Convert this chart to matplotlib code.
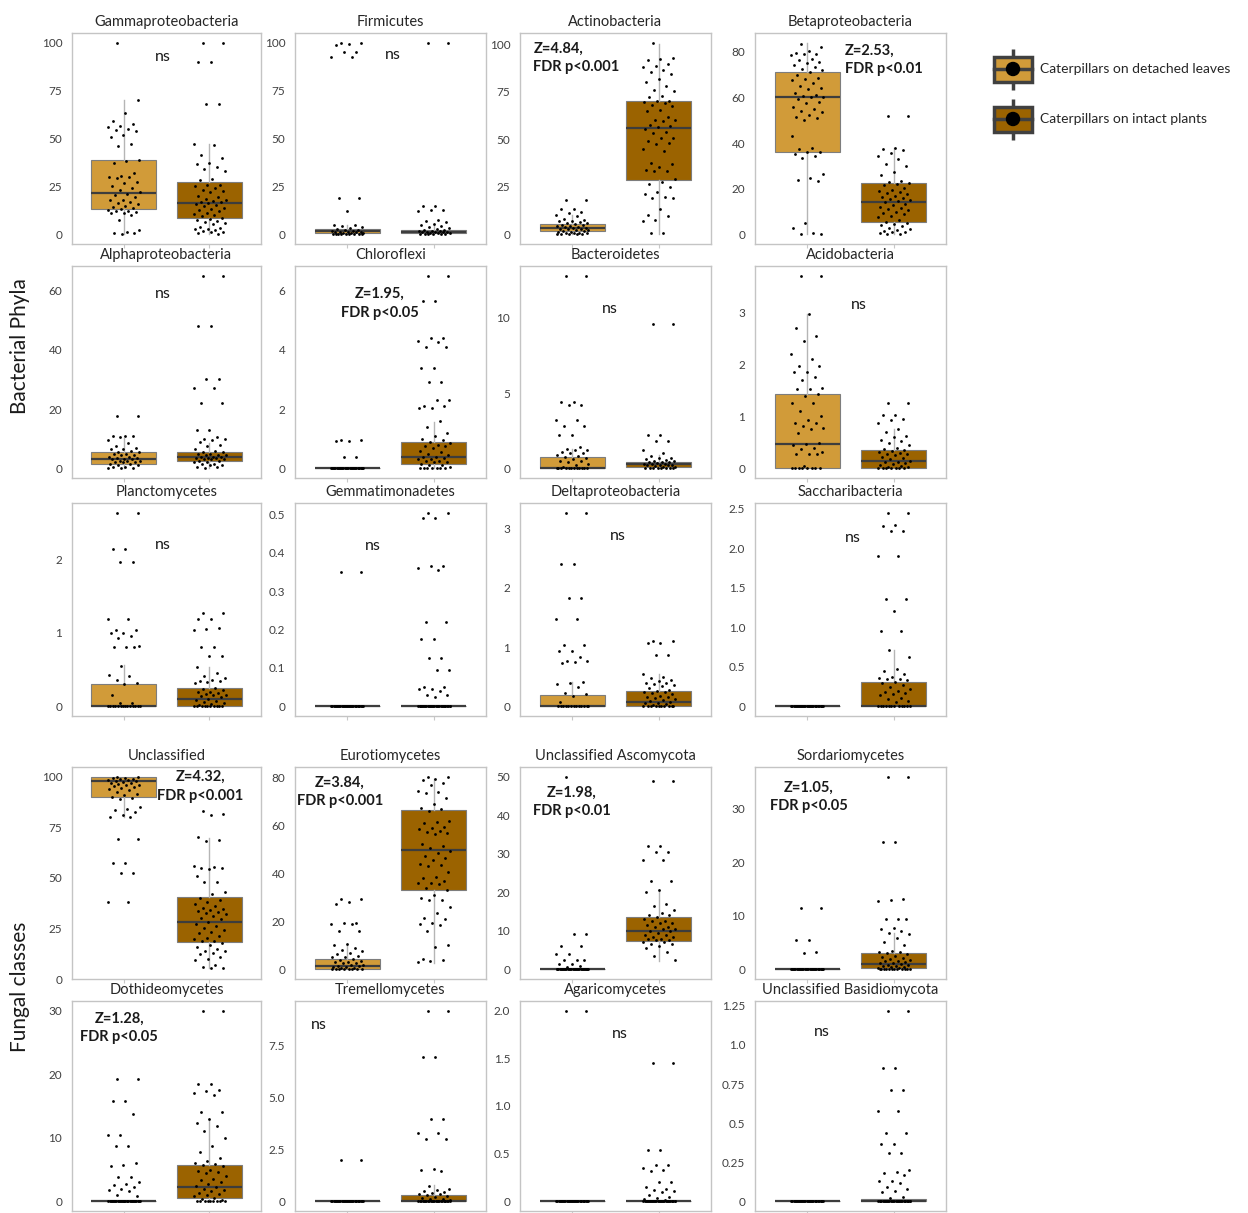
import numpy as np
import matplotlib
matplotlib.use("Agg")
import matplotlib.pyplot as plt
from matplotlib.patches import Rectangle, Circle

plt.rcParams['font.family'] = ['Lato', 'DejaVu Sans']

W, H = 1248, 1213

group_labels = ["Caterpillars on detached leaves", "Caterpillars on intact plants"]
group_colors = ["#D19B39", "#9B6300"]

# ---------------- relative abundance (%) per caterpillar, by group ----------------
gamma_detached = [100, 70, 63.5, 59, 57.5, 56.5, 56, 55, 54.5, 54, 52, 51, 47, 46, 39, 38.5, 37, 32,
                  30.5, 30, 30, 29.5, 27.5, 27, 25, 24, 23, 22, 21, 20.5, 19.5, 18, 18, 17, 16.5, 16,
                  15, 14.5, 14, 13, 12.5, 12, 12, 11.5, 11, 11, 10, 7.5, 2.5, 1, 0.5, 0.5, 0]
gamma_intact = [100, 100, 90, 90, 68, 68, 47, 46.5, 41.5, 40, 37, 36.5, 35, 34, 33, 29, 28.5, 26,
                25.5, 25, 24, 23, 22.5, 22, 20, 19.5, 18.5, 18, 17.5, 17, 17, 16.5, 16, 15.5, 15,
                14, 13.5, 12.5, 12, 11, 10.5, 10, 9.5, 8.5, 8, 7.5, 7, 6.5, 6, 5.5, 4, 3.5, 3, 3,
                2.5, 2, 1.5, 1, 0.5, 0]
gamma_box_detached = [0, 13, 21.5, 39, 70]
gamma_box_intact = [0, 8.5, 16.5, 27.5, 47]

firm_detached = [100, 100, 99.5, 99, 95, 95, 92.5, 92.5, 19, 19, 12, 5, 5, 4.5, 4, 3.5, 3, 2.5, 2.5,
                 2, 2, 1.5, 1.5, 1, 1, 1, 0.8, 0.5, 0.5, 0.3, 0.2, 0, 0, 0, 0, 0, 0, 0]
firm_intact = [100, 100, 15, 15, 12.5, 12.5, 12, 7.5, 7, 6.5, 5.5, 5, 4.5, 4, 3.5, 3, 2.5, 2.5, 2, 2,
               1.8, 1.5, 1.5, 1.2, 1, 1, 0.8, 0.5, 0.5, 0.3, 0, 0, 0, 0, 0]
firm_box_detached = [0, 0.8, 1.6, 2.8, 5]
firm_box_intact = [0, 0.8, 1.5, 2.3, 5]

actino_detached = [18, 18, 13.5, 13.5, 12, 11.5, 10, 9.5, 8, 7.5, 7, 7, 6.5, 6, 6, 5.5, 5, 5, 4.5,
                   4.5, 4, 4, 3.5, 3.5, 3, 3, 3, 2.5, 2.5, 2, 2, 1.5, 1.5, 1, 1, 0.5, 0.5, 0, 0, 0, 0, 0]
actino_intact = [101, 93, 92.5, 92, 89.5, 88.5, 88, 86.5, 85.5, 84.5, 82, 80, 78, 76, 75.5, 73, 72.5,
                 70.5, 70, 69.5, 69, 68, 67.5, 65.5, 65, 62, 60.5, 60, 59.5, 57.5, 57, 56.5, 55.5, 54,
                 53.5, 51, 51, 49, 48, 47.5, 45, 44, 37.5, 37, 35.5, 34, 33.5, 33.5, 29, 27.5, 26.5,
                 25, 22.5, 21.5, 19.5, 19, 19, 13.5, 10, 9.5, 7.5, 7, 0.5, 0.5]
actino_box_detached = [0, 2, 3.5, 5.5, 10]
actino_box_intact = [0, 28.5, 56, 70.5, 100]

beta_detached = [83.5, 82, 80.5, 79.5, 79, 79, 78.5, 77, 76.5, 75.5, 75, 74, 73.5, 72.5, 72, 71, 70,
                 68.5, 68, 67.5, 66.5, 65, 64, 63.5, 62, 61, 60.5, 60, 60, 59.5, 58, 57.5, 56, 55, 54,
                 53.5, 52.5, 51.5, 51, 50, 43, 38, 37.5, 36, 36, 35, 34.5, 33.5, 26.5, 24.5, 24, 23.5,
                 5, 3, 0.5, 0, 0]
beta_intact = [52, 52, 38, 37.5, 37, 35.5, 34.5, 33, 31, 30, 27.5, 26, 23.5, 23, 22.5, 22, 21.5, 20.5,
               19.5, 19, 18.5, 18, 17.5, 17, 16.5, 16, 15.5, 15, 14.5, 14, 13.5, 13, 12, 11.5, 11,
               10.5, 10, 9.5, 9, 8, 7.5, 6.5, 5.5, 5, 4.5, 4, 3.5, 3, 2.5, 2, 1.5, 1, 1, 0.5, 0, 0]
beta_box_detached = [0, 36, 60, 71, 84]
beta_box_intact = [0, 5.5, 14, 22.5, 38]

alpha_detached = [17.5, 17.5, 11, 11, 11, 10.5, 9.5, 8.5, 7.5, 7, 6.5, 6.5, 6, 5.5, 5.5, 5, 5, 4.5,
                  4.5, 4, 4, 3.5, 3.5, 3, 3, 3, 2.5, 2.5, 2.5, 2, 2, 2, 1.5, 1.5, 1, 1, 0.5, 0.5, 0, 0, 0]
alpha_intact = [65, 65, 48, 48, 30, 30, 27, 27, 22, 22, 13, 13, 10.5, 10, 10, 9.5, 9, 8, 7.5, 6.5, 6,
                5.5, 5.5, 5, 5, 4.5, 4.5, 4.5, 4, 4, 4, 3.5, 3.5, 3.5, 3, 3, 3, 2.5, 2.5, 2, 2, 1.5,
                1.5, 1, 1, 0.5, 0.5, 0]
alpha_box_detached = [0, 1.5, 3.1, 5.4, 10.4]
alpha_box_intact = [0, 2.6, 4.0, 5.4, 8.7]

chloro_detached = [0.95, 0.95, 0.92, 0.92, 0.38, 0.38] + [0] * 30
chloro_intact = [6.5, 6.5, 5.65, 5.65, 4.4, 4.4, 4.3, 4.25, 4.1, 4.1, 3.4, 3.4, 2.9, 2.9, 2.3, 2.3,
                 2.1, 2.1, 2.05, 2.05, 1.6, 1.4, 1.2, 1.1, 1.0, 0.95, 0.9, 0.85, 0.8, 0.75, 0.75, 0.7,
                 0.6, 0.55, 0.5, 0.45, 0.4, 0.38, 0.35, 0.3, 0.3, 0.25, 0.25, 0.2, 0.2, 0.15, 0.1,
                 0.1, 0.05] + [0] * 7
chloro_box_detached = [0, 0, 0, 0, 0]
chloro_box_intact = [0, 0.15, 0.37, 0.9, 1.57]

bactero_detached = [12.8, 12.8, 4.4, 4.4, 4.2, 4.2, 3.2, 3.2, 2.8, 2.8, 2.2, 2.2, 1.4, 1.3, 1.2, 1.2,
                    1.1, 1.0, 1.0, 0.9, 0.8, 0.75, 0.7, 0.6, 0.5, 0.5, 0.4, 0.3, 0.2, 0.1] + [0] * 12
bactero_intact = [9.6, 9.6, 2.2, 2.2, 1.8, 1.8, 1.2, 1.0, 0.8, 0.7, 0.7, 0.6, 0.55, 0.5, 0.5, 0.45,
                  0.4, 0.4, 0.35, 0.3, 0.3, 0.3, 0.25, 0.25, 0.2, 0.2, 0.15, 0.1, 0.1, 0.05] + [0] * 7
bactero_box_detached = [0, 0, 0.05, 0.75, 1.3]
bactero_box_intact = [0, 0.1, 0.3, 0.45, 0.9]

acido_detached = [3.7, 3.7, 2.97, 2.7, 2.55, 2.45, 2.2, 2.1, 1.97, 1.97, 1.85, 1.85, 1.75, 1.7, 1.55,
                  1.53, 1.52, 1.42, 1.38, 1.25, 1.25, 1.1, 1.0, 0.92, 0.88, 0.88, 0.82, 0.78, 0.75,
                  0.67, 0.48, 0.47, 0.45, 0.4, 0.37, 0.32, 0.28, 0.27, 0.27, 0.05] + [0] * 8
acido_intact = [1.25, 1.25, 1.03, 1.03, 0.95, 0.92, 0.88, 0.75, 0.7, 0.62, 0.6, 0.55, 0.52, 0.48,
                0.45, 0.4, 0.38, 0.35, 0.33, 0.32, 0.3, 0.28, 0.27, 0.25, 0.22, 0.2, 0.18, 0.15,
                0.13, 0.12, 0.1, 0.08, 0.06, 0.05, 0.03, 0.02] + [0] * 7
acido_box_detached = [0, 0, 0.47, 1.43, 2.97]
acido_box_intact = [0, 0, 0.15, 0.35, 0.76]

plancto_detached = [2.63, 2.63, 2.14, 2.14, 1.96, 1.96, 1.19, 1.19, 1.04, 1.04, 0.99, 0.99, 0.95,
                    0.93, 0.82, 0.81, 0.81, 0.8, 0.55, 0.42, 0.41, 0.36, 0.31, 0.3, 0.16, 0.05,
                    0.05] + [0] * 14
plancto_intact = [1.27, 1.27, 1.19, 1.19, 1.07, 1.05, 1.04, 0.8, 0.8, 0.69, 0.69, 0.54, 0.45, 0.41,
                  0.38, 0.36, 0.34, 0.34, 0.33, 0.32, 0.25, 0.23, 0.22, 0.2, 0.19, 0.18, 0.17, 0.16,
                  0.15, 0.14, 0.12, 0.1, 0.08, 0.07, 0.06, 0.05, 0.03, 0.02, 0.01] + [0] * 9
plancto_box_detached = [0, 0, 0, 0.3, 0.56]
plancto_box_intact = [0, 0, 0.1, 0.25, 0.54]

gemma_detached = [0.35, 0.35] + [0] * 30
gemma_intact = [0.505, 0.505, 0.49, 0.49, 0.365, 0.365, 0.36, 0.355, 0.22, 0.22, 0.175, 0.175, 0.125,
                0.125, 0.095, 0.095, 0.05, 0.05, 0.045, 0.045, 0.04, 0.03, 0.03, 0.025] + [0] * 30
gemma_box_detached = [0, 0, 0, 0, 0]
gemma_box_intact = [0, 0, 0, 0, 0]

delta_detached = [3.27, 3.27, 2.4, 2.4, 1.83, 1.83, 1.47, 1.47, 1.04, 1.04, 0.93, 0.93, 0.83, 0.76,
                  0.76, 0.74, 0.73, 0.41, 0.39, 0.38, 0.33, 0.23, 0.2, 0.18, 0.07] + [0] * 13
delta_intact = [1.1, 1.1, 1.07, 1.07, 0.87, 0.87, 0.54, 0.49, 0.48, 0.45, 0.43, 0.4, 0.39, 0.38, 0.36,
                0.34, 0.31, 0.28, 0.26, 0.25, 0.24, 0.22, 0.2, 0.18, 0.16, 0.15, 0.14, 0.12, 0.1,
                0.09, 0.08, 0.06, 0.05, 0.04, 0.02] + [0] * 10
delta_box_detached = [0, 0, 0, 0.19, 0.41]
delta_box_intact = [0, 0, 0.07, 0.26, 0.54]

sacch_detached = [0] * 30
sacch_intact = [2.45, 2.45, 2.3, 2.28, 2.22, 2.22, 1.9, 1.9, 1.36, 1.36, 1.2, 0.95, 0.95, 0.71, 0.63,
                0.47, 0.45, 0.41, 0.37, 0.36, 0.35, 0.34, 0.33, 0.31, 0.29, 0.27, 0.25, 0.22, 0.2,
                0.18, 0.17, 0.16, 0.14, 0.1, 0.09, 0.07, 0.05] + [0] * 12
sacch_box_detached = [0, 0, 0, 0, 0]
sacch_box_intact = [0, 0, 0, 0.31, 0.71]

uncl_detached = [100, 100, 99.5, 99.5, 99, 99, 98.5, 98.5, 98, 98, 97.5, 97, 97, 96.5, 96, 96, 95.5,
                 95, 94.5, 94, 93.5, 92.5, 91.5, 91, 90, 89.5, 89, 85, 84, 83.5, 82.5, 81, 80, 79.8,
                 69, 69, 57.5, 57.5, 52.5, 52.5, 38, 38]
uncl_intact = [83, 81.5, 81, 70, 68.5, 68, 56, 55.5, 55, 55, 54.5, 51, 48, 48, 43, 42, 40, 39, 38, 37,
               36, 35, 34.5, 34, 33.5, 33, 32.5, 32, 31, 30, 29.5, 28, 27, 26, 25, 24, 23, 22.5, 21,
               20.5, 20, 19, 19, 18, 17, 16, 15, 14, 14, 13, 12.5, 11, 10, 9.5, 7, 6, 5.5, 5.5]
uncl_box_detached = [79.8, 90.1, 97.8, 100, 100]
uncl_box_intact = [5.5, 18.5, 28, 40.4, 69.7]

euro_detached = [29.5, 29.5, 28, 27.5, 19.5, 19.5, 19, 19, 16, 16, 10.5, 10, 9, 8, 7.5, 7, 6.5, 5.5,
                 5, 5, 4.5, 4, 3.5, 3, 3, 2.5, 2.5, 2, 2, 1.5, 1.5, 1, 1, 0.5, 0.5] + [0] * 8
euro_intact = [80.5, 80.5, 79.5, 79, 78, 77, 74.5, 74, 73.5, 71.5, 69, 67.5, 67, 66, 62, 61.5, 61,
               59.5, 59, 58.5, 58, 57.5, 57, 56.5, 52.5, 51.5, 50.5, 49.5, 48.5, 47.5, 46.5, 45.5,
               44, 43.5, 43, 40.5, 38.5, 38, 37, 36, 36, 35.5, 34, 33, 31, 30, 29, 29, 26, 23.5,
               21.5, 21, 19.5, 19, 18.5, 16, 10, 9.5, 4.5, 4, 3.5, 3]
euro_box_detached = [0, 0, 1.3, 4.5, 10]
euro_box_intact = [2.5, 33, 49.7, 66.6, 79.5]

uasco_detached = [50, 9.3, 9.3, 6, 6, 4, 4, 2.5, 2.5, 2.5, 1.5, 1.5, 1, 0.5] + [0] * 30
uasco_intact = [48.8, 48.8, 32, 32, 30.5, 30.5, 28.5, 28.5, 23, 23, 20.5, 20, 17, 16.5, 15.5, 14.5,
                14, 14, 13.5, 13, 12.5, 12.5, 12, 12, 11.5, 11, 11, 10.5, 10.5, 10, 10, 9.5, 9, 9,
                8.5, 8.5, 8, 8, 7.5, 7.5, 7, 7, 6.5, 6.5, 6, 5.5, 4.5, 3.5, 2.3]
uasco_box_detached = [0, 0, 0, 0, 0]
uasco_box_intact = [2.2, 7.3, 10, 13.6, 20.6]

sord_detached = [11.5, 11.5, 5.5, 5.5, 3.2, 3.0] + [0] * 30
sord_intact = [36, 36, 23.8, 23.8, 13.2, 13, 12.7, 9.5, 9.4, 9.4, 7.8, 7.5, 7.2, 6.8, 6.6, 5.8, 5.2,
               4.5, 3.5, 3.3, 3.2, 3, 2.8, 2.5, 2.3, 2.1, 2, 1.8, 1.6, 1.5, 1.3, 1.2, 1.1, 1, 0.9,
               0.8, 0.7, 0.6, 0.5, 0.4, 0.3, 0.2, 0.1] + [0] * 11
sord_box_detached = [0, 0, 0, 0, 0]
sord_box_intact = [0, 0.3, 1.05, 3.1, 6.8]

doth_detached = [19.2, 19.2, 15.8, 15.8, 13.8, 10.5, 10.5, 8.7, 8.7, 6, 5.8, 5.5, 3.8, 3.8, 3, 2.8,
                 2.6, 2.3, 2, 1.8, 1.6, 1.0, 0.8] + [0] * 30
doth_intact = [30, 30, 18.5, 18.5, 17.5, 17.3, 17, 16.8, 14, 14, 13, 12.3, 11.8, 11, 10, 8.7, 7.7,
               6.8, 6.3, 6, 5.9, 5.7, 5.5, 5, 4.8, 4.6, 4.4, 4, 3.6, 3.4, 3, 2.8, 2.5, 2.2, 2, 1.8,
               1.6, 1.4, 1.2, 1.0, 0.8, 0.6, 0.4, 0.2] + [0] * 9
doth_box_detached = [0, 0, 0, 0, 0]
doth_box_intact = [0, 0.6, 2.3, 5.7, 12.9]

trem_detached = [2.0, 2.0] + [0] * 30
trem_intact = [9.2, 9.2, 6.95, 6.95, 3.95, 3.95, 3.3, 3.3, 3.0, 3.0, 1.55, 1.5, 1.45, 0.75, 0.6, 0.55,
               0.5, 0.45, 0.4, 0.38, 0.35, 0.3, 0.25, 0.2, 0.15, 0.12, 0.1, 0.05] + [0] * 25
trem_box_detached = [0, 0, 0, 0, 0]
trem_box_intact = [0, 0, 0, 0.32, 0.8]

agar_detached = [2.0, 2.0] + [0] * 30
agar_intact = [1.45, 1.45, 0.54, 0.54, 0.38, 0.38, 0.35, 0.33, 0.32, 0.2, 0.2, 0.15, 0.13, 0.12, 0.11,
               0.1, 0.07, 0.05, 0.04, 0.03, 0.02] + [0] * 30
agar_box_detached = [0, 0, 0, 0, 0]
agar_box_intact = [0, 0, 0, 0, 0]

ubas_detached = [0] * 30
ubas_intact = [1.22, 1.22, 0.85, 0.85, 0.71, 0.71, 0.58, 0.58, 0.44, 0.44, 0.37, 0.37, 0.31, 0.31,
               0.2, 0.19, 0.18, 0.17, 0.13, 0.13, 0.12, 0.09, 0.08, 0.07, 0.06, 0.03, 0.02] + [0] * 30
ubas_box_detached = [0, 0, 0, 0, 0]
ubas_box_intact = [0, 0, 0, 0.015, 0.015]

# ---------------- titles, tick labels and test results ----------------
titles = ["Gammaproteobacteria", "Firmicutes", "Actinobacteria", "Betaproteobacteria",
          "Alphaproteobacteria", "Chloroflexi", "Bacteroidetes", "Acidobacteria",
          "Planctomycetes", "Gemmatimonadetes", "Deltaproteobacteria", "Saccharibacteria",
          "Unclassified", "Eurotiomycetes", "Unclassified Ascomycota", "Sordariomycetes",
          "Dothideomycetes", "Tremellomycetes", "Agaricomycetes", "Unclassified Basidiomycota"]

ytick_labels = [["0", "25", "50", "75", "100"], ["0", "25", "50", "75", "100"],
                ["0", "25", "50", "75", "100"], ["0", "20", "40", "60", "80"],
                ["0", "20", "40", "60"], ["0", "2", "4", "6"], ["0", "5", "10"], ["0", "1", "2", "3"],
                ["0", "1", "2"], ["0", "0.1", "0.2", "0.3", "0.4", "0.5"], ["0", "1", "2", "3"],
                ["0", "0.5", "1.0", "1.5", "2.0", "2.5"],
                ["0", "25", "50", "75", "100"], ["0", "20", "40", "60", "80"],
                ["0", "10", "20", "30", "40", "50"], ["0", "10", "20", "30"],
                ["0", "10", "20", "30"], ["0", "2.5", "5.0", "7.5"],
                ["0", "0.5", "1.0", "1.5", "2.0"], ["0", "0.25", "0.5", "0.75", "1.0", "1.25"]]

stat_labels = ["ns", "ns", "Z=4.84,\nFDR p<0.001", "Z=2.53,\nFDR p<0.01",
               "ns", "Z=1.95,\nFDR p<0.05", "ns", "ns",
               "ns", "ns", "ns", "ns",
               "Z=4.32,\nFDR p<0.001", "Z=3.84,\nFDR p<0.001", "Z=1.98,\nFDR p<0.01",
               "Z=1.05,\nFDR p<0.05",
               "Z=1.28,\nFDR p<0.05", "ns", "ns", "ns"]

points = [(gamma_detached, gamma_intact), (firm_detached, firm_intact),
          (actino_detached, actino_intact), (beta_detached, beta_intact),
          (alpha_detached, alpha_intact), (chloro_detached, chloro_intact),
          (bactero_detached, bactero_intact), (acido_detached, acido_intact),
          (plancto_detached, plancto_intact), (gemma_detached, gemma_intact),
          (delta_detached, delta_intact), (sacch_detached, sacch_intact),
          (uncl_detached, uncl_intact), (euro_detached, euro_intact),
          (uasco_detached, uasco_intact), (sord_detached, sord_intact),
          (doth_detached, doth_intact), (trem_detached, trem_intact),
          (agar_detached, agar_intact), (ubas_detached, ubas_intact)]

boxes = [(gamma_box_detached, gamma_box_intact), (firm_box_detached, firm_box_intact),
         (actino_box_detached, actino_box_intact), (beta_box_detached, beta_box_intact),
         (alpha_box_detached, alpha_box_intact), (chloro_box_detached, chloro_box_intact),
         (bactero_box_detached, bactero_box_intact), (acido_box_detached, acido_box_intact),
         (plancto_box_detached, plancto_box_intact), (gemma_box_detached, gemma_box_intact),
         (delta_box_detached, delta_box_intact), (sacch_box_detached, sacch_box_intact),
         (uncl_box_detached, uncl_box_intact), (euro_box_detached, euro_box_intact),
         (uasco_box_detached, uasco_box_intact), (sord_box_detached, sord_box_intact),
         (doth_box_detached, doth_box_intact), (trem_box_detached, trem_box_intact),
         (agar_box_detached, agar_box_intact), (ubas_box_detached, ubas_box_intact)]

# ---------------- layout (pixels) ----------------
col_x = [(72, 261), (295, 486), (520, 711), (755, 946)]
row_y = [(33, 244), (266, 478), (503, 716), (767, 979), (1001, 1211)]

# label anchor in axes fraction: (x, y, horizontal alignment)
stat_pos = [(0.48, 0.92, "center"), (0.51, 0.93, "center"), (0.07, 0.96, "left"), (0.47, 0.95, "left"),
            (0.48, 0.90, "center"), (0.445, 0.90, "center"), (0.47, 0.83, "center"), (0.545, 0.85, "center"),
            (0.48, 0.835, "center"), (0.41, 0.83, "center"), (0.51, 0.88, "center"), (0.51, 0.87, "center"),
            (0.68, 0.985, "center"), (0.235, 0.96, "center"), (0.27, 0.91, "center"), (0.28, 0.935, "center"),
            (0.25, 0.95, "center"), (0.125, 0.92, "center"), (0.52, 0.875, "center"), (0.35, 0.885, "center")]


def px_rect(x0, y0, x1, y1):
    return [x0 / W, 1 - y1 / H, (x1 - x0) / W, (y1 - y0) / H]


def jitter(n, spread=0.38):
    k = np.arange(n)
    return ((k * 0.6180339887 + 0.31) % 1.0 - 0.5) * spread


fig = plt.figure(figsize=(W / 100, H / 100), dpi=100)
fig.patch.set_facecolor("white")

for i, title in enumerate(titles):
    r, c = divmod(i, 4)
    x0, x1 = col_x[c]
    y0, y1 = row_y[r]
    ax = fig.add_axes(px_rect(x0, y0, x1, y1))

    stats = []
    for b in boxes[i]:
        stats.append(dict(whislo=b[0], q1=b[1], med=b[2], q3=b[3], whishi=b[4], fliers=[]))
    bp = ax.bxp(stats, positions=[0, 1], widths=0.75, patch_artist=True, showfliers=False,
                showcaps=False,
                boxprops=dict(edgecolor="#7d7d7d", linewidth=0.8),
                whiskerprops=dict(color="#b5b5b5", linewidth=1.0),
                medianprops=dict(color="#3d3d3d", linewidth=1.6))
    for patch, col in zip(bp["boxes"], group_colors):
        patch.set_facecolor(col)

    for g, vals in enumerate(points[i]):
        vals = np.asarray(vals, dtype=float)
        ax.scatter(g + jitter(len(vals)), vals, s=4, color="black", zorder=5, linewidths=0)

    ax.set_xlim(-0.6, 1.6)
    ax.margins(y=0.05)
    labels = ytick_labels[i]
    ax.set_yticks([float(t) for t in labels])
    ax.set_yticklabels(labels)
    ax.set_xticks([0, 1])
    ax.set_xticklabels(["", ""])
    ax.tick_params(axis="y", length=0, labelsize=8.5, labelcolor="#404040", pad=7)
    ax.tick_params(axis="x", length=3, color="#c8c8c8", width=0.8)
    for sp in ax.spines.values():
        sp.set_color("#c4c4c4")
        sp.set_linewidth(1.0)
    ax.set_title(title, fontsize=10.5, color="#262626", pad=5)

    sx, sy, ha = stat_pos[i]
    bold = stat_labels[i] != "ns"
    ax.text(sx, sy, stat_labels[i], transform=ax.transAxes, ha=ha, va="top",
            fontsize=10.5 if bold else 11.5, fontweight="bold" if bold else "normal",
            color="#1a1a1a", linespacing=1.4, zorder=6)

# row-group labels
fig.text(20 / W, 1 - 346 / H, "Bacterial Phyla", rotation=90, ha="center", va="center",
         fontsize=15, color="#1a1a1a")
fig.text(20 / W, 1 - 987 / H, "Fungal classes", rotation=90, ha="center", va="center",
         fontsize=15, color="#1a1a1a")

# legend with box-plot glyphs
lax = fig.add_axes(px_rect(985, 40, 1248, 150))
lax.set_xlim(0, 263)
lax.set_ylim(110, 0)
lax.axis("off")
for k, (lab, col) in enumerate(zip(group_labels, group_colors)):
    cy = 29 + k * 50
    lax.plot([28, 28], [cy - 20, cy + 21], color="#404040", lw=2.5, solid_capstyle="butt", zorder=1)
    lax.add_patch(Rectangle((9, cy - 12), 38, 25, facecolor=col, edgecolor="#404040", lw=2.5, zorder=2))
    lax.plot([9, 47], [cy, cy], color="#404040", lw=2.5, zorder=3)
    lax.add_patch(Circle((28, cy), 6.5, facecolor="black", edgecolor="black", zorder=4))
    lax.text(55, cy, lab, ha="left", va="center", fontsize=10, color="#262626")

fig.savefig("out.png", dpi=100, facecolor="white")
